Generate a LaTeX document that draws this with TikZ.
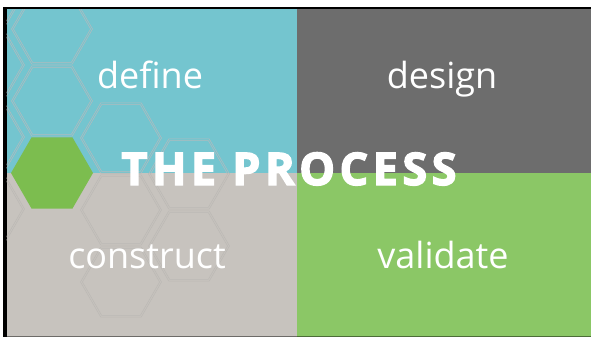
\documentclass[tikz,border=0pt]{standalone}
\usepackage{fontspec}
\setmainfont{Open Sans}
\newfontfamily\titlefont[LetterSpace=10,FakeBold=3]{Open Sans Bold}
\definecolor{tealq}{HTML}{74C5CF}
\definecolor{darkq}{HTML}{6D6D6D}
\definecolor{beigeq}{HTML}{C7C3BE}
\definecolor{greenq}{HTML}{8BC766}
\definecolor{greenhex}{HTML}{7CBD4F}
\definecolor{hexlineA}{HTML}{B2BBBE}
\definecolor{hexlineB}{HTML}{BCB9B5}
\newcommand\myhex[3]{({#1+#3},{#2}) -- ({#1+#3/2},{#2+#3*0.866}) -- ({#1-#3/2},{#2+#3*0.866}) -- ({#1-#3},{#2}) -- ({#1-#3/2},{#2-#3*0.866}) -- ({#1+#3/2},{#2-#3*0.866}) -- cycle}
\newcommand\hexset{%
  \foreach \cx/\cy in {-16/-7,-16/65,-16/137,-16/209,52/29,52/101,121/138,121/210,121/282,189/174,189/246}{
    \draw \myhex{\cx}{\cy}{40.5};
    \draw \myhex{\cx}{\cy}{38.6};
  }}
\tikzset{
  label/.style={text=white, font=\fontsize{36}{40}\selectfont, anchor=base, inner sep=0pt},
  titlestyle/.style={text=white, font=\fontsize{45}{50}\selectfont\titlefont, anchor=base, inner sep=0pt},
}
\begin{document}
\begin{tikzpicture}[x=1pt,y=-1pt]
\useasboundingbox (0,0) rectangle (591,337);
\fill[white] (0,0) rectangle (591,337);
\fill[black] (3.3,6.7) rectangle (591,337);
\fill[tealq] (6.5,9.5) rectangle (297,173);
\fill[darkq] (297,9.5) rectangle (591,173);
\fill[beigeq] (6.5,173) rectangle (297,337);
\fill[greenq] (297,173) rectangle (591,337);
\draw[black, opacity=0.45, line width=1.2pt] (6.5,336.4) -- (591,336.4);
\begin{scope}
  \clip (6.5,9.5) rectangle (297,173);
  \begin{scope}[draw=hexlineA, line width=0.55pt]
    \hexset
  \end{scope}
\end{scope}
\begin{scope}
  \clip (6.5,173) rectangle (297,335.8);
  \begin{scope}[draw=hexlineB, line width=0.55pt]
    \hexset
  \end{scope}
\end{scope}
\fill[greenhex] \myhex{52}{173}{41};
\node[label] (define) at (150,88) {define};
\node[label] (design) at (442,88) {design};
\node[label] (construct) at (147,268) {construct};
\node[label] (validate) at (443,268) {validate};
\node[titlestyle] (title) at (289,185) {THE PROCESS};
\end{tikzpicture}
\end{document}
